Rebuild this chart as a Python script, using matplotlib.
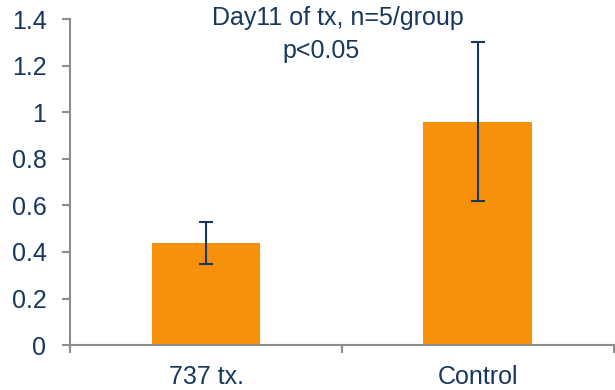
import numpy as np
from matplotlib import pyplot as plt

groups = ["737 tx.", "Control"]
means = [0.44, 0.96]
errors = [0.09, 0.34]
yticks = [0, 0.2, 0.4, 0.6, 0.8, 1, 1.2, 1.4]
ytick_labels = ["0", "0.2", "0.4", "0.6", "0.8", "1", "1.2", "1.4"]

navy = "#17375E"
grey = "#8C8C8C"
orange = "#F7900A"

plt.rcParams["font.family"] = ["Liberation Sans", "DejaVu Sans"]

fig = plt.figure(figsize=(6.15, 3.9), dpi=100)
ax = fig.add_axes([0.114, 0.115, 0.884, 0.836])

x = np.arange(len(groups))
ax.bar(x, means, width=0.4, color=orange, zorder=2)
ax.errorbar(x, means, yerr=errors, fmt="none", ecolor=navy, elinewidth=1.5,
            capsize=5, capthick=1.5, zorder=3)

ax.set_xlim(-0.5, 1.5)
ax.set_ylim(0, 1.4)
ax.set_yticks(yticks)
ax.set_yticklabels(ytick_labels)
ax.set_xticks(x)
ax.set_xticklabels(groups)
ax.set_xticks([-0.5, 0.5, 1.5], minor=True)

for s in ["top", "right"]:
    ax.spines[s].set_visible(False)
for s in ["left", "bottom"]:
    ax.spines[s].set_color(grey)
    ax.spines[s].set_linewidth(1.5)

ax.tick_params(axis="y", colors=grey, labelcolor=navy, labelsize=18,
               length=6, width=1.5, pad=11)
ax.tick_params(axis="x", which="major", length=0, labelcolor=navy,
               labelsize=18, pad=14)
ax.tick_params(axis="x", which="minor", colors=grey, length=6, width=1.5)

fig.text(0.55, 0.985, "Day11 of tx, n=5/group", ha="center",
         va="top", fontsize=18, color=navy)
fig.text(0.522, 0.9, "p<0.05", ha="center",
         va="top", fontsize=18, color=navy)

fig.savefig("out.png", dpi=100)
